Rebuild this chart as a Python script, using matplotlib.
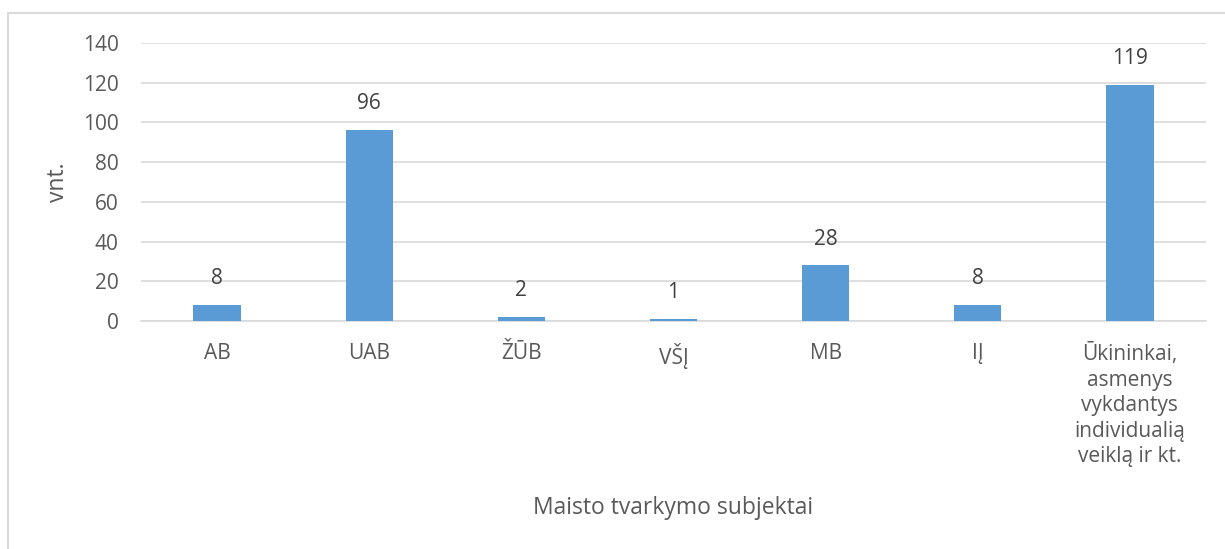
import matplotlib
matplotlib.use("Agg")
import matplotlib.pyplot as plt
from matplotlib.patches import Rectangle

categories = ["AB", "UAB", "ŽŪB", "VŠĮ", "MB", "IĮ",
              "Ūkininkai,\nasmenys\nvykdantys\nindividualią\nveiklą ir kt."]
values = [8, 96, 2, 1, 28, 8, 119]
yticks = [0, 20, 40, 60, 80, 100, 120, 140]

plt.rcParams['font.family'] = ['Open Sans', 'DejaVu Sans']
txt = '#595959'
fs = 15
fs_title = 16.5

fig = plt.figure(figsize=(12.25, 5.49), dpi=100)
fig.patches.append(Rectangle((7.5/1225, -0.05), 1.0, 1 - 13/549 + 0.05,
                             transform=fig.transFigure, fill=False,
                             edgecolor='#d9d9d9', linewidth=1.5))
ax = fig.add_axes([141/1225, 1 - 321/549, (1206-141)/1225, (321-43)/549])

x = list(range(len(categories)))
ax.bar(x, values, width=0.31, color='#5B9BD5', zorder=3)
for xi, v in zip(x, values):
    ax.annotate(str(v), (xi, v), xytext=(0, 19), textcoords='offset points',
                ha='center', va='center', fontsize=fs, color='#404040')

ax.set_xlim(-0.5, len(categories) - 0.5)
ax.set_ylim(0, 140)
ax.set_yticks(yticks)
ax.set_yticklabels([str(t) for t in yticks], fontsize=fs, color=txt)
ax.set_xticks(x)
ax.set_xticklabels(categories, fontsize=fs, color=txt, linespacing=1.28, va='top')
ax.tick_params(axis='both', length=0)
ax.tick_params(axis='x', pad=16)
ax.tick_params(axis='y', pad=16)
ax.grid(axis='y', color='#d9d9d9', linewidth=1.2, zorder=0)
for s in ['top', 'right', 'left']:
    ax.spines[s].set_visible(False)
ax.spines['bottom'].set_color('#d9d9d9')
ax.spines['bottom'].set_linewidth(1.2)

ax.set_ylabel('vnt.', fontsize=fs_title, color=txt)
ax.yaxis.set_label_coords((70 - 141) / 1065, 0.5)
fig.text(673 / 1225, 1 - 508/549, 'Maisto tvarkymo subjektai',
         ha='center', va='center', fontsize=fs_title, color=txt)

fig.savefig('out.png', dpi=100)
